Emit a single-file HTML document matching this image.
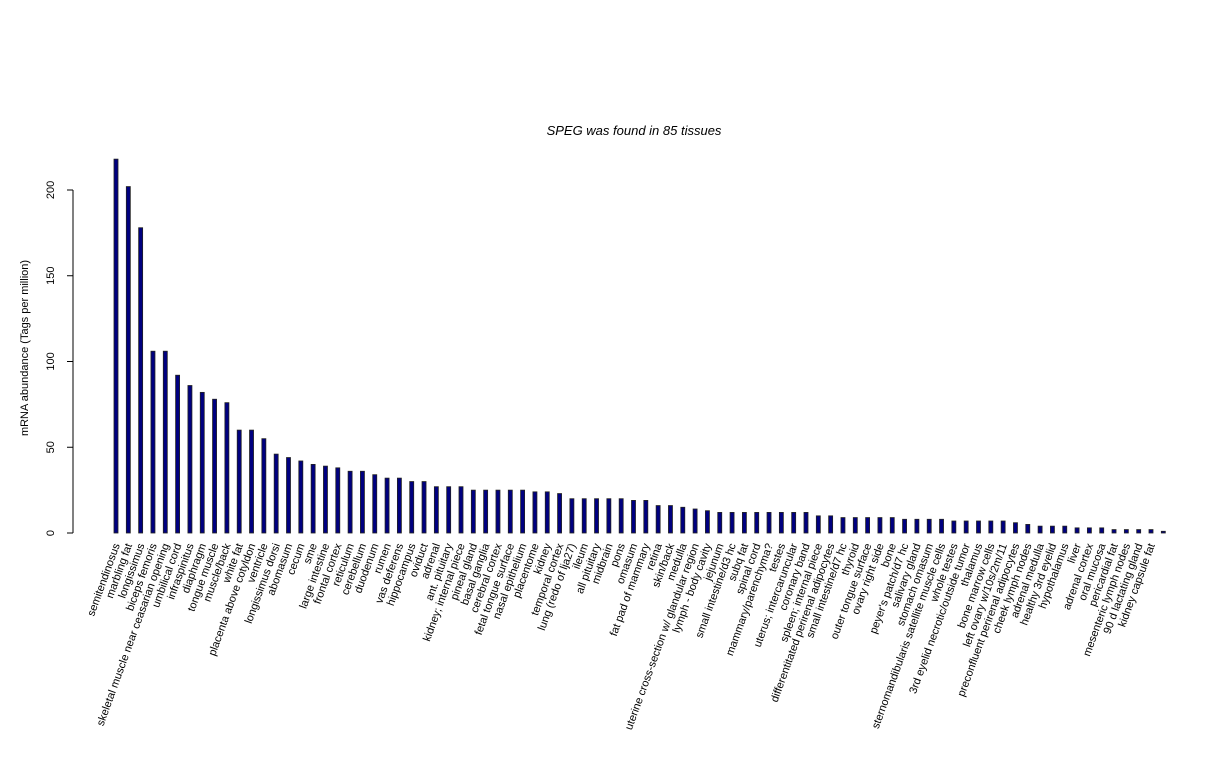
<!DOCTYPE html>
<html><head><meta charset="utf-8"><style>body{margin:0;background:#fff}svg{display:block;font-family:"Liberation Sans",sans-serif}</style></head>
<body>
<svg id="chart" width="1224" height="768">
<text x="634" y="135" text-anchor="middle" font-size="13" font-style="italic">SPEG  was found in  85  tissues</text>
<text transform="translate(28,348) rotate(-90)" text-anchor="middle" font-size="11">mRNA abundance (Tags per million)</text>
<g id="yaxis"></g>
<g id="bars"></g>
<g id="xlabels"></g>
</svg>
<script>
const categories = ["semitendinosus","marbling fat","longissimus","biceps femoris","skeletal muscle near ceasarian opening","umbilical cord","infraspinitus","diaphragm","tongue muscle","muscle/back","white fat","placenta above cotyldon","ventricle","longissimus dorsi","abomasum","cecum","sme","large intestine","frontal cortex","reticulum","cerebellum","duodenum","rumen","vas deferens","hippocampus","oviduct","adrenal","ant. pituitary","kidney; internal piece","pineal gland","basal ganglia","cerebral cortex","fetal tongue surface","nasal epithelium","placentome","kidney","temporal cortex","lung (redo of lja27)","ileum","all pituitary","midbrain","pons","omasum","fat pad of mammary","retina","skin/back","medulla","uterine cross-section w/ glandular region","lymph - body cavity","jejunum","small intestine/d3 hc","subq fat","spinal cord","mammary/parenchyma?","testes","uterus; intercaruncular","coronary band","spleen; internal piece","differentitated perirenal adipocytes","small intestine/d7 hc","thyroid","outer tongue surface","ovary right side","bone","peyer's patch/d7 hc","salivary gland","stomach omasum","sternomandibularis satellite muscle cells","whole testes","3rd eyelid necrotic/outside tumor","thalamus","bone marrow cells","left ovary w/10s/2m/11","preconfluent perirenal adipocytes","cheek lymph nodes","adrenal medulla","healthy 3rd eyelid","hypothalamus","liver","adrenal cortex","oral mucosa","pericardial fat","mesenteric lymph nodes","90 d lactating gland","kidney capsule fat"];
const values = [218,202,178,106,106,92,86,82,78,76,60,60,55,46,44,42,40,39,38,36,36,34,32,32,30,30,27,27,27,25,25,25,25,25,24,24,23,20,20,20,20,20,19,19,16,16,15,14,13,12,12,12,12,12,12,12,12,10,10,9,9,9,9,9,8,8,8,8,7,7,7,7,7,6,5,4,4,4,3,3,3,2,2,2,2,1];
const yTicks = [0,50,100,150,200];
const NS="http://www.w3.org/2000/svg";
const y0=533, yPer=(533-190)/200;
const x0=116, step=(1151-116)/(categories.length-1);
function yScale(v){return y0-v*yPer;}
function xScale(i){return x0+i*step;}
function mk(tag,attrs,parent){const e=document.createElementNS(NS,tag);for(const k in attrs)e.setAttribute(k,attrs[k]);parent.appendChild(e);return e;}
const ya=document.getElementById('yaxis');
const axl=mk('line',{x1:73,x2:73,y1:yScale(0),y2:yScale(200),stroke:'#000'},ya);


yTicks.forEach(t=>{
  const l=mk('line',{x1:67,x2:73,y1:yScale(t),y2:yScale(t),stroke:'#000'},ya);
  
  
  const tx=mk('text',{transform:`translate(54,${yScale(t)}) rotate(-90)`,'text-anchor':'middle','font-size':11},ya);
  tx.textContent=t;
  
  
});
const bg=document.getElementById('bars'), lg=document.getElementById('xlabels');
values.forEach((v,i)=>{
  const x=xScale(i);
  const r=mk('rect',{x:x-2,y:yScale(v),width:4,height:yScale(0)-yScale(v),fill:'#000080',stroke:'#222','stroke-width':0.8},bg);
  
  
  const t=mk('text',{transform:`translate(${x+4},545) rotate(-70)`,'text-anchor':'end','font-size':11},lg);
  t.textContent=categories[i];
  
  
});
</script>
</body></html>
